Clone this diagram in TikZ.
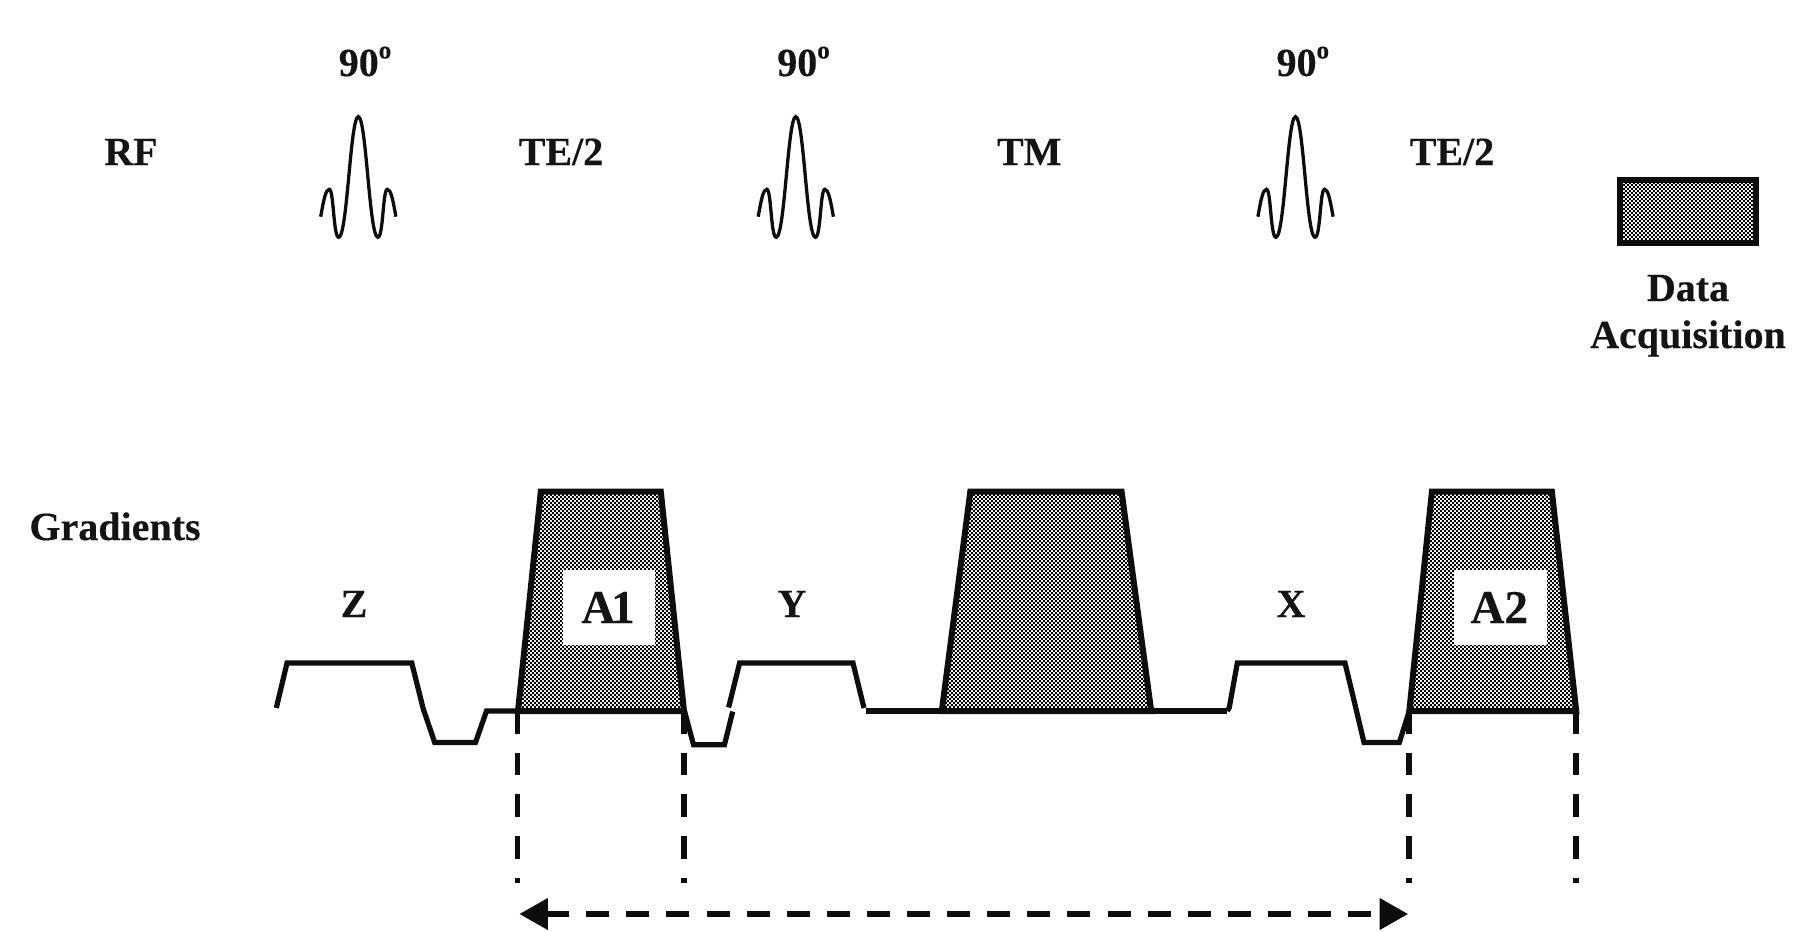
\documentclass[tikz,border=0pt]{standalone}
\usepackage{fontspec}
\setmainfont{Liberation Serif}[BoldFont={Liberation Serif Bold},BoldFeatures={FakeBold=0.25}]
\usetikzlibrary{patterns,arrows.meta}
\pgfdeclarepatternformonly{chk}{\pgfpointorigin}{\pgfqpoint{4.4pt}{4.4pt}}{\pgfqpoint{4.4pt}{4.4pt}}{%
  \pgfpathrectangle{\pgfpointorigin}{\pgfqpoint{2.2pt}{2.2pt}}%
  \pgfpathrectangle{\pgfqpoint{2.2pt}{2.2pt}}{\pgfqpoint{2.2pt}{2.2pt}}%
  \pgfusepath{fill}}
\tikzset{
  lbl/.style={font=\fontsize{40}{40}\selectfont\bfseries,anchor=base,inner sep=0pt,text=black!92},
  biglbl/.style={lbl,font=\fontsize{47}{47}\selectfont\bfseries},
  wave/.style={line width=5.2pt,line join=miter,draw=black!95},
  acq/.style={line width=6pt,line join=miter,draw=black!95,pattern=chk,pattern color=black},
  whitebox/.style={fill=white,draw=none},
  rfp/.style={line width=3.3pt,draw=black!95,line cap=butt},
  guide/.style={line width=5.8pt,draw=black!95,dash pattern=on 22.5pt off 19.2pt},
  span/.style={line width=6.8pt,draw=black!95,dash pattern=on 23pt off 17.1pt,
    {Triangle[length=28.6pt,width=30pt]}-{Triangle[length=28.6pt,width=30pt]}}
}
\newcommand{\rfpulse}[1]{%
  \draw[rfp,xshift=#1pt] (-37.6,216.7) .. controls (-34.5,199) and (-32.5,189.3) .. (-29,189.3)
    .. controls (-24.5,189.3) and (-25,237.3) .. (-19.6,237.3)
    .. controls (-11,237.3) and (-8,116.7) .. (0,116.7)
    .. controls (8,116.7) and (11,237.3) .. (19.6,237.3)
    .. controls (25,237.3) and (24.5,189.3) .. (29,189.3)
    .. controls (32.5,189.3) and (34.5,199) .. (37.6,216.7);}
\begin{document}
\begin{tikzpicture}[x=1pt,y=-1pt]
\useasboundingbox (0,0) rectangle (1800,932);
\fill[white] (0,0) rectangle (1800,932);

% RF row
\node[lbl] (rf) at (131,165) {RF};
\node[lbl] (te1) at (561,165) {TE/2};
\node[lbl] (tm) at (1029.2,165) {TM};
\node[lbl] (te2) at (1452,165) {TE/2};
\node[lbl] (p1) at (365,76) {90\raisebox{0.44em}{\fontsize{25}{25}\selectfont o}};
\node[lbl] (p2) at (803.5,76) {90\raisebox{0.44em}{\fontsize{25}{25}\selectfont o}};
\node[lbl] (p3) at (1302.8,76) {90\raisebox{0.44em}{\fontsize{25}{25}\selectfont o}};
\rfpulse{358.3}
\rfpulse{795.8}
\rfpulse{1295.5}

% legend
\draw[acq] (1620.3,179.5) rectangle (1755.7,242.8);
\node[lbl] (data) at (1688,301) {Data};
\node[lbl] (acqt) at (1688,348) {Acquisition};

% gradients
\node[lbl] (grad) at (115,540) {Gradients};
\node[lbl] (z) at (354,617) {Z};
\node[lbl] (y) at (792,617) {Y};
\node[lbl] (x) at (1291,617) {X};

% lobes
\draw[acq] (518,711) -- (540.8,491.7) -- (660.8,491.7) -- (684,711) -- cycle;
\draw[acq] (941.8,711) -- (970.3,491.7) -- (1121.6,491.7) -- (1151.2,711) -- cycle;
\draw[acq] (1409.3,711) -- (1431.9,491.7) -- (1551.9,491.7) -- (1576.2,711) -- cycle;
\node[whitebox,minimum width=91.8pt,minimum height=74.7pt,inner sep=0pt] (b1) at (608.8,607.2) {};
\node[whitebox,minimum width=92.7pt,minimum height=74.7pt,inner sep=0pt] (b2) at (1500.35,607.2) {};
\node[biglbl] (a1) at (608,623) {A\kern-0.09em 1};
\node[biglbl] (a2) at (1499.3,623) {A2};

% waveform
\draw[wave] (276.3,708) -- (287,663) -- (411.8,663) -- (423.3,709) -- (434.7,742.5)
  -- (475.5,742.5) -- (486.5,711) -- (518,711);
\draw[wave] (684.5,711) -- (693.5,744.7) -- (724.5,744.7) -- (732.7,711.5);
\draw[wave] (728.6,707.5) -- (739.6,663) -- (853,663) -- (864,708);
\draw[wave] (866,711) -- (1227.3,711);
\draw[wave] (1227.3,711) -- (1229.3,707.5) -- (1237.3,663) -- (1345,663) -- (1353.3,697.5)
  -- (1364,742.5) -- (1399.3,742.5) -- (1409.3,711);

% guides
\coordinate (g1a) at (517.5,711); \coordinate (g1b) at (517.5,883);
\coordinate (g2a) at (683.7,711); \coordinate (g2b) at (683.7,883);
\coordinate (g3a) at (1408.7,711); \coordinate (g3b) at (1408.7,883);
\coordinate (g4a) at (1575.7,711); \coordinate (g4b) at (1575.7,883);
\draw[guide] (g1a) -- (g1b);
\draw[guide] (g2a) -- (g2b);
\draw[guide] (g3a) -- (g3b);
\draw[guide] (g4a) -- (g4b);

% span arrow
\coordinate (s1) at (519.2,914); \coordinate (s2) at (1408.3,914);
\draw[span] (s1) -- (s2);
\end{tikzpicture}
\end{document}
